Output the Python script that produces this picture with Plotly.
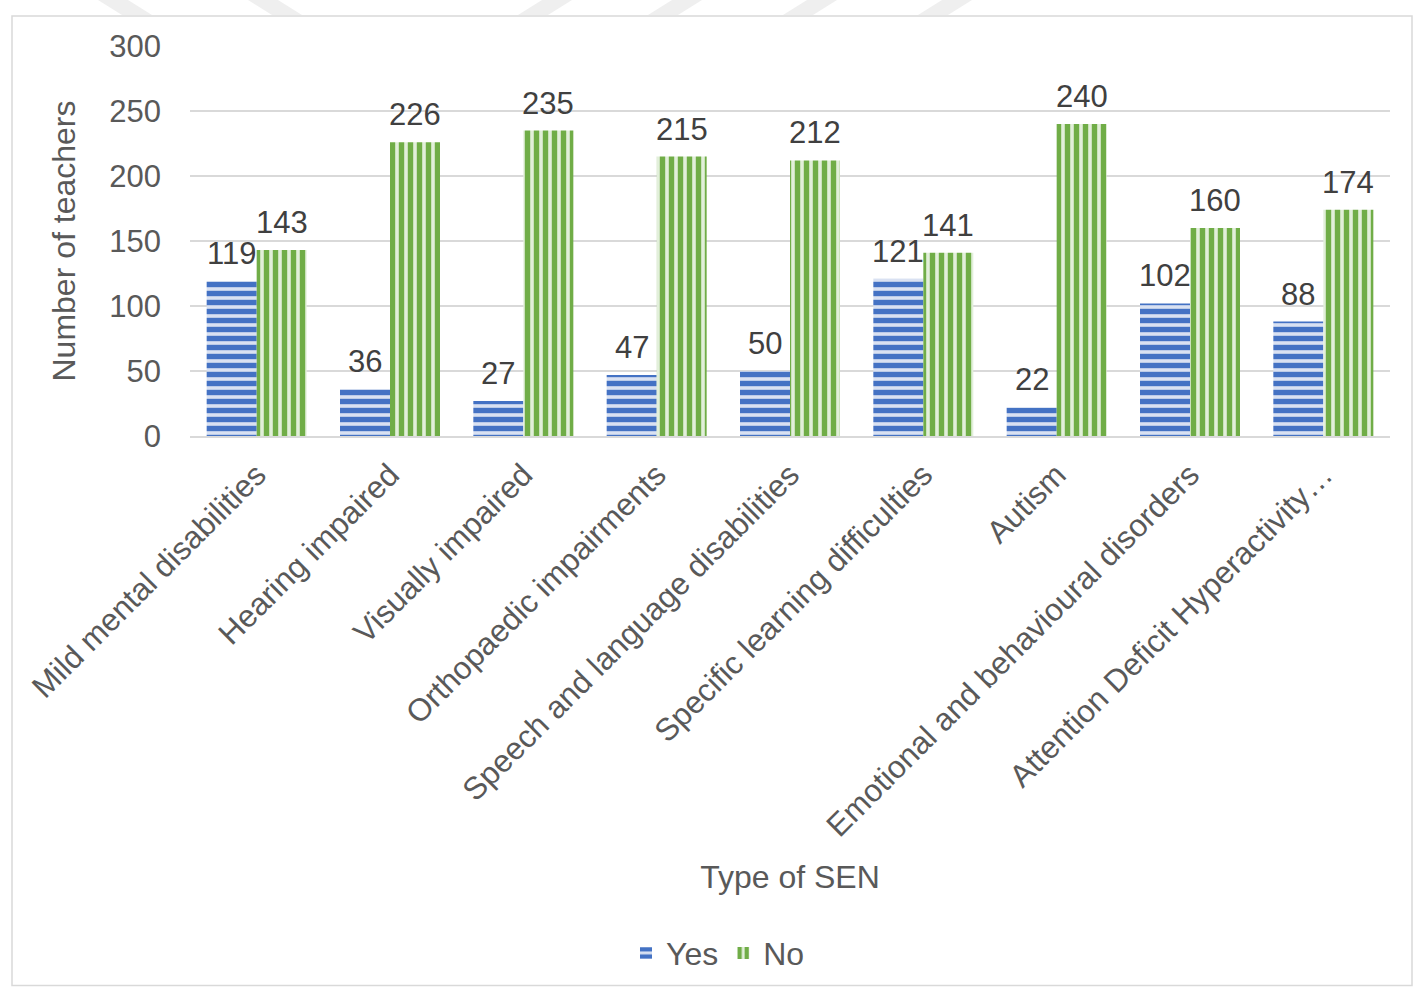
import plotly.graph_objects as go

categories = ["Mild mental disabilities", "Hearing impaired", "Visually impaired",
              "Orthopaedic impairments", "Speech and language disabilities",
              "Specific learning difficulties", "Autism",
              "Emotional and behavioural disorders", "Attention Deficit Hyperactivity…"]
yes_vals = [119, 36, 27, 47, 50, 121, 22, 102, 88]
no_vals = [143, 226, 235, 215, 212, 141, 240, 160, 174]
y_ticks = [0, 50, 100, 150, 200, 250, 300]

W, H = 1413, 990
ML, MR, MT, MB = 190, 23, 46, 553
pw = W - ML - MR
ph = H - MT - MB
FONT = "Liberation Sans, Arial"

fig = go.Figure()
fig.add_trace(go.Bar(
    name="Yes", x=categories, y=yes_vals,
    marker=dict(color="#4472C4", line=dict(width=0),
                pattern=dict(shape="-", fgcolor="#4472C4", bgcolor="#D9E1F2", fgopacity=1,
                             size=9, solidity=0.6, fillmode="replace")),
))
fig.add_trace(go.Bar(
    name="No", x=categories, y=no_vals,
    marker=dict(color="#70AD47", line=dict(width=0),
                pattern=dict(shape="|", fgcolor="#70AD47", bgcolor="#E2EFDA", fgopacity=1,
                             size=9, solidity=0.6, fillmode="replace")),
))

annotations = []
for vals, dx in [(yes_vals, -25), (no_vals, 25)]:
    for c, v in zip(categories, vals):
        annotations.append(dict(x=c, y=v, xref="x", yref="y", text=str(v), showarrow=False,
                                xshift=dx, yshift=8, yanchor="bottom",
                                font=dict(size=31, color="#404040", family=FONT)))

def px_x(x):
    return (x - ML) / pw

def px_y(y):
    return (H - MB - y) / ph

shapes = [dict(type="rect", xref="paper", yref="paper",
               x0=px_x(12), x1=px_x(1412), y0=px_y(988), y1=px_y(16),
               line=dict(color="#D9D9D9", width=1.5), fillcolor="rgba(0,0,0,0)", layer="below")]
# faint watermark stripes at the top edge
for (cx, d) in [(125, 1), (275, 1), (545, -1), (675, -1), (810, -1), (945, -1)]:
    path = (f"M {px_x(cx - 15 - 12*d)} {px_y(0)} L {px_x(cx + 15 - 12*d)} {px_y(0)} "
            f"L {px_x(cx + 15 + 12*d)} {px_y(15)} L {px_x(cx - 15 + 12*d)} {px_y(15)} Z")
    shapes.append(dict(type="path", xref="paper", yref="paper", path=path,
                       fillcolor="#EFEFEF", line=dict(width=0), layer="below"))

fig.update_layout(
    width=W, height=H,
    margin=dict(l=ML, r=MR, t=MT, b=MB),
    paper_bgcolor="white", plot_bgcolor="white",
    barmode="group", bargap=0.25, bargroupgap=0,
    font=dict(family=FONT, color="#595959"),
    shapes=shapes, annotations=annotations,
    showlegend=True,
    legend=dict(orientation="h", x=0.44, xanchor="center", y=-1.32, yanchor="middle",
                font=dict(size=32, color="#595959"), traceorder="normal"),
)
fig.update_xaxes(
    tickangle=-45, tickfont=dict(size=31.5, color="#595959"),
    showline=True, linecolor="#D9D9D9", linewidth=1.5, ticks="",
    ticklabelstandoff=6,
    title=dict(text="Type of SEN", font=dict(size=32, color="#595959"), standoff=23),
)
fig.update_yaxes(
    range=[0, 300], tickvals=y_ticks, tickfont=dict(size=31, color="#595959"),
    showgrid=True, gridcolor="#D9D9D9", gridwidth=1.5, zeroline=False, ticks="",
    ticklabelstandoff=28,
    title=dict(text="Number of teachers", font=dict(size=32, color="#595959"), standoff=24),
)
fig.write_html("out.html")
